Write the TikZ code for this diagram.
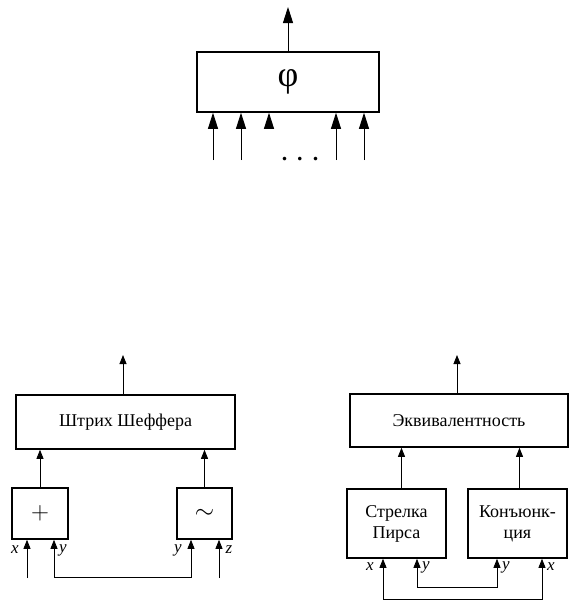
\documentclass[tikz,border=0pt]{standalone}
\usepackage{fontspec}
\setmainfont{Liberation Serif}
\usetikzlibrary{arrows.meta}

\tikzset{
  box/.style={draw, line width=1.6pt, inner sep=0pt, align=center, font=\fontsize{18}{21}\selectfont},
  lbl/.style={inner sep=0pt, font=\fontsize{17}{17}\selectfont\itshape},
  bigarr/.style={line width=0.9pt, -{Triangle[length=16pt,width=10pt]}},
  arr/.style={line width=0.8pt, -{Triangle[length=9pt,width=7pt]}},
  twoarr/.style={line width=0.8pt, {Triangle[length=9pt,width=7pt]}-{Triangle[length=9pt,width=7pt]}}
}

\begin{document}
\begin{tikzpicture}[x=1pt,y=-1pt]
  \useasboundingbox (0,0) rectangle (584,605);
  % top block
  \node[box, minimum width=182pt, minimum height=60pt, font=\fontsize{36}{36}\selectfont] (phi) at (288,82) {φ};
  \coordinate (phiout) at (288,7);
  \draw[bigarr] (phi.north) -- (phiout);
  \foreach \x/\n in {213/1,241/2,336/4,364/5}
    \coordinate (in\n) at (\x,160);
  \coordinate (in3) at (269,128);
  \foreach \n in {1,...,5}
    \draw[bigarr] (in\n) -- (in\n |- phi.south);
  \node[inner sep=0pt, font=\fontsize{22}{22}\selectfont\bfseries] (dots) at (300,159) {.\hspace{10pt}.\hspace{10pt}.};

  % left scheme
  \node[box, minimum width=219pt, minimum height=54pt] (sheff) at (125.5,422) {Штрих Шеффера};
  \node[box, minimum width=56pt, minimum height=51pt, font=\fontsize{28}{28}\selectfont] (plus) at (40,513.5) {$+$};
  \node[box, minimum width=55pt, minimum height=51pt, font=\fontsize{28}{28}\selectfont] (tilde) at (204.5,513.5) {$\sim$};
  \coordinate (sheffout) at (123,355);
  \draw[arr] (sheff.north -| sheffout) -- (sheffout);
  \draw[arr] (plus.north) -- (plus.north |- sheff.south);
  \draw[arr] (tilde.north) -- (tilde.north |- sheff.south);
  \coordinate (xa) at (27,578);
  \coordinate (ya) at (54,577);
  \coordinate (yb) at (191,577);
  \coordinate (za) at (219,578);
  \draw[arr] (xa) -- (xa |- plus.south);
  \draw[arr] (za) -- (za |- tilde.south);
  \draw[twoarr] (ya |- plus.south) -- (ya) -- (yb) -- (yb |- tilde.south);
  \node[lbl] (lxa) at (15,550) {x};
  \node[lbl] (lya) at (63,550) {y};
  \node[lbl] (lyb) at (178,550) {y};
  \node[lbl] (lza) at (229,550) {z};

  % right scheme
  \node[box, minimum width=218pt, minimum height=53pt] (equiv) at (459,420.5) {Эквивалентность};
  \node[box, minimum width=99pt, minimum height=69pt] (pierce) at (396.5,523.5) {Стрелка\\Пирса};
  \node[box, minimum width=99pt, minimum height=69pt] (conj) at (517.5,523.5) {Конъюнк-\\ция};
  \coordinate (equivout) at (457,355);
  \draw[arr] (equiv.north -| equivout) -- (equivout);
  \draw[arr] ([xshift=5pt]pierce.north) -- ([xshift=5pt]pierce.north |- equiv.south);
  \draw[arr] ([xshift=2pt]conj.north) -- ([xshift=2pt]conj.north |- equiv.south);
  \coordinate (xc) at (383,599);
  \coordinate (yc) at (417,587);
  \coordinate (yd) at (497,587);
  \coordinate (xd) at (542,599);
  \draw[twoarr] (yc |- pierce.south) -- (yc) -- (yd) -- (yd |- conj.south);
  \draw[twoarr] (xc |- pierce.south) -- (xc) -- (xd) -- (xd |- conj.south);
  \node[lbl] (lxc) at (370,567) {x};
  \node[lbl] (lyc) at (426,567) {y};
  \node[lbl] (lyd) at (506,567) {y};
  \node[lbl] (lxd) at (551,567) {x};
\end{tikzpicture}
\end{document}
